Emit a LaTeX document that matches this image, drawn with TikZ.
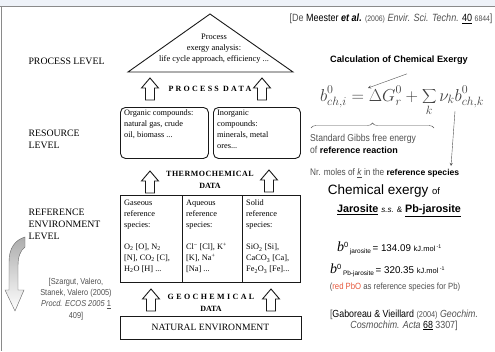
\documentclass[tikz,border=0pt]{standalone}
\usepackage{fontspec}
\setmainfont{Liberation Serif}
\setsansfont{Liberation Sans}
\newfontfamily\narrowsf{Liberation Sans}[FakeStretch=0.86]
\usetikzlibrary{decorations.pathreplacing}
\definecolor{bandblue}{HTML}{EEF2F8}
\definecolor{framegray}{HTML}{8A8A8A}
\definecolor{txtgray}{HTML}{505050}
\definecolor{pbred}{HTML}{E5573B}
\newcommand{\bzero}[1]{{\fontsize{14}{15}\selectfont\rmfamily\itshape b}\raisebox{4pt}{\fontsize{7.5}{8}\selectfont 0}\,\raisebox{-2pt}{\fontsize{6.5}{7}\selectfont #1}}
\tikzset{
  diag/.style={draw=black!90, line width=0.9pt},
  level/.style={anchor=west, align=left, font=\fontsize{9.8}{12}\selectfont},
  rooftext/.style={align=center, font=\fontsize{8.4}{11}\selectfont},
  resbox/.style={diag, rounded corners=5pt, anchor=north west, minimum height=51pt},
  cell/.style={diag, anchor=north west, minimum height=87pt},
  celltext/.style={anchor=north west, align=left, inner sep=0pt, font=\fontsize{8.3}{11}\selectfont},
  uparrow/.pic={\draw[diag, fill=white, line join=miter] (-4.5,11) -- (-4.5,-1) -- (-8.5,-1)
    -- (0,-11) -- (8.5,-1) -- (4.5,-1) -- (4.5,11) -- cycle;},
  datalabel/.style={align=center, font=\bfseries\fontsize{8}{12.5}\selectfont},
  note/.style={align=center, text=txtgray, font=\narrowsf\fontsize{8.6}{11.2}\selectfont},
  pointer/.style={draw=txtgray, thin, ->, >=stealth}
}
\begin{document}
\begin{tikzpicture}[x=1pt,y=-1pt]
  \useasboundingbox (0,0) rectangle (495,351);
  \fill[bandblue] (0,0) rectangle (495,6);
  \draw[framegray] (0,6.5) -- (495,6.5);
  \draw[framegray] (1,6.5) -- (1,351);

  % levels
  \node[level] (proclev) at (25,61) {PROCESS LEVEL};
  \node[level] (reslev) at (25,139) {RESOURCE\\LEVEL};
  \node[level] (reflev) at (25,224) {REFERENCE\\ENVIRONMENT\\LEVEL};

  % roof
  \draw[diag, line join=miter] (128,72) -- (210,14) -- (293,72) -- cycle;
  \node[rooftext] (roof) at (214,49) {Process\\exergy analysis:\\life cycle approach, efficiency ...};

  \pic (pdl) at (150,89) {uparrow};
  \pic (pdr) at (262,89) {uparrow};
  \node[datalabel] (pd) at (210,89) {\addfontfeature{LetterSpace=28}PROCESS DATA};

  % resources
  \node[resbox, minimum width=88pt] (org) at (120,107) {};
  \node[resbox, minimum width=87pt] (inorg) at (213,107) {};
  \node[celltext] at ([xshift=4pt,yshift=-3pt]org.north west) {Organic compounds:\\natural gas, crude\\oil, biomass ...};
  \node[celltext] at ([xshift=4pt,yshift=-3pt]inorg.north west) {Inorganic\\compounds:\\minerals, metal\\ores...};

  \pic (tdl) at (150,182) {uparrow};
  \pic (tdr) at (269,181) {uparrow};
  \node[datalabel] (td) at (210,180) {\addfontfeature{LetterSpace=6}THERMOCHEMICAL\\DATA};

  % reference species
  \node[cell, minimum width=62pt] (gas) at (120,195) {};
  \node[cell, minimum width=60pt] (aq) at (182,195) {};
  \node[cell, minimum width=58pt] (sol) at (242,195) {};
  \node[celltext] at ([xshift=4pt,yshift=-5pt]gas.north west)
    {Gaseous\\reference\\species:\\[11pt]O\textsubscript{2} [O], N\textsubscript{2}\\{}[N], CO\textsubscript{2} [C],\\H\textsubscript{2}O [H] ...};
  \node[celltext] at ([xshift=4pt,yshift=-5pt]aq.north west)
    {Aqueous\\reference\\species:\\[11pt]Cl\textsuperscript{--} [Cl], K\textsuperscript{+}\\{}[K], Na\textsuperscript{+}\\{}[Na] ...};
  \node[celltext] at ([xshift=4pt,yshift=-5pt]sol.north west)
    {Solid\\reference\\species:\\[11pt]SiO\textsubscript{2} [Si],\\CaCO\textsubscript{3} [Ca],\\Fe\textsubscript{2}O\textsubscript{3} [Fe]...};

  \pic (gdl) at (151,300) {uparrow};
  \pic (gdr) at (271,300) {uparrow};
  \node[datalabel] (gd) at (211,303) {\addfontfeature{LetterSpace=30}GEOCHEMICAL\\DATA};

  \node[diag, minimum width=181pt, minimum height=23pt, font=\fontsize{9.6}{11}\selectfont]
    (nat) at (210.5,327.5) {NATURAL ENVIRONMENT};

  % curved arrow and citation
  \shadedraw[top color=gray!65, bottom color=white, draw=black!60, thin]
    (25,237) .. controls (15,240) and (9,248) .. (9,262) -- (9,290) -- (5,290) -- (15,311)
    -- (24,290) -- (18,290) -- (18,266) .. controls (18,257) and (20,251) .. (25,247) -- cycle;
  \node[note] (szargut) at (76,299) {[Szargut, Valero,\\Stanek, Valero (2005)\\\textit{Procd. ECOS 2005} \underline{1}\\409]};

  % right column
  \node[note, font=\narrowsf\fontsize{10.5}{12}\selectfont] (meester) at (391,19)
    {[De \textcolor{black}{Meester} \textcolor{black}{\textbf{\textit{et al.}}} {\fontsize{8}{9}\selectfont(2006)} \textit{Envir. Sci. Techn.} \textcolor{black}{\underline{40}} {\fontsize{8}{9}\selectfont 6844}]};
  \node[font=\sffamily\bfseries\fontsize{9.2}{11}\selectfont] (calc) at (399,60) {Calculation of Chemical Exergy};
  \node[text=black!75, font=\fontsize{16.5}{18}\selectfont] (exf) at (402,101)
    {$\displaystyle b^0_{ch,i}=\Delta G^0_r+\sum_k \nu_k b^0_{ch,k}$};
  \coordinate (dG) at (368,88);
  \coordinate (nu) at (455,111);
  \draw[pointer] ([xshift=8pt,yshift=-6pt]calc.south) -- (dG);
  \draw[txtgray, thin, decorate, decoration={brace, amplitude=5pt}] (311,128) -- (434,128);
  \node[anchor=north west, align=left, text=txtgray, inner sep=0pt, font=\narrowsf\fontsize{10}{12.5}\selectfont] (gibbs) at (310,134)
    {Standard Gibbs free energy\\of \textcolor{black}{\sffamily\bfseries\fontsize{9}{12}\selectfont reference reaction}};
  \node[anchor=west, text=txtgray, inner sep=0pt, font=\narrowsf\fontsize{9.6}{12}\selectfont] (nrmol) at (310,173)
    {Nr. moles of \underline{\textit{k}} in the \textcolor{black}{\sffamily\bfseries\fontsize{8.6}{12}\selectfont reference species}};
  \coordinate (nutip) at (451,166);
  \draw[pointer] (nu) -- (nutip);

  \node[font=\sffamily\fontsize{13.5}{15}\selectfont] (chemex) at (384,191)
    {Chemical exergy {\fontsize{9.5}{10}\selectfont of}};
  \node[font=\sffamily\fontsize{10.8}{12}\selectfont] (jaro) at (399,211)
    {\textbf{\underline{Jarosite}} {\fontsize{8}{9}\selectfont\textit{s.s.} \&} \textbf{\underline{Pb-jarosite}}};
  \node[anchor=west, inner sep=0pt, font=\sffamily\fontsize{9.8}{11}\selectfont] (bjar) at (337,248)
    {\bzero{jarosite}\,= 134.09 {\fontsize{7.5}{8}\selectfont kJ.mol\,\textsuperscript{-1}}};
  \node[anchor=west, inner sep=0pt, font=\sffamily\fontsize{9.8}{11}\selectfont] (bpb) at (330,270)
    {\bzero{Pb-jarosite}\,= 320.35 {\fontsize{7.5}{8}\selectfont kJ.mol\,\textsuperscript{-1}}};
  \node[text=txtgray, font=\narrowsf\fontsize{9}{11}\selectfont] (pbo) at (395,287)
    {(\textcolor{pbred}{red PbO} as reference species for Pb)};
  \node[note, font=\narrowsf\fontsize{10.3}{11}\selectfont] (gaboreau) at (404,320)
    {[\textcolor{black}{Gaboreau \& Vieillard} {\fontsize{8.5}{9}\selectfont(2004)} \textit{Geochim.}\\\textit{Cosmochim. Acta} \textcolor{black}{\underline{68}} 3307]};
\end{tikzpicture}
\end{document}
